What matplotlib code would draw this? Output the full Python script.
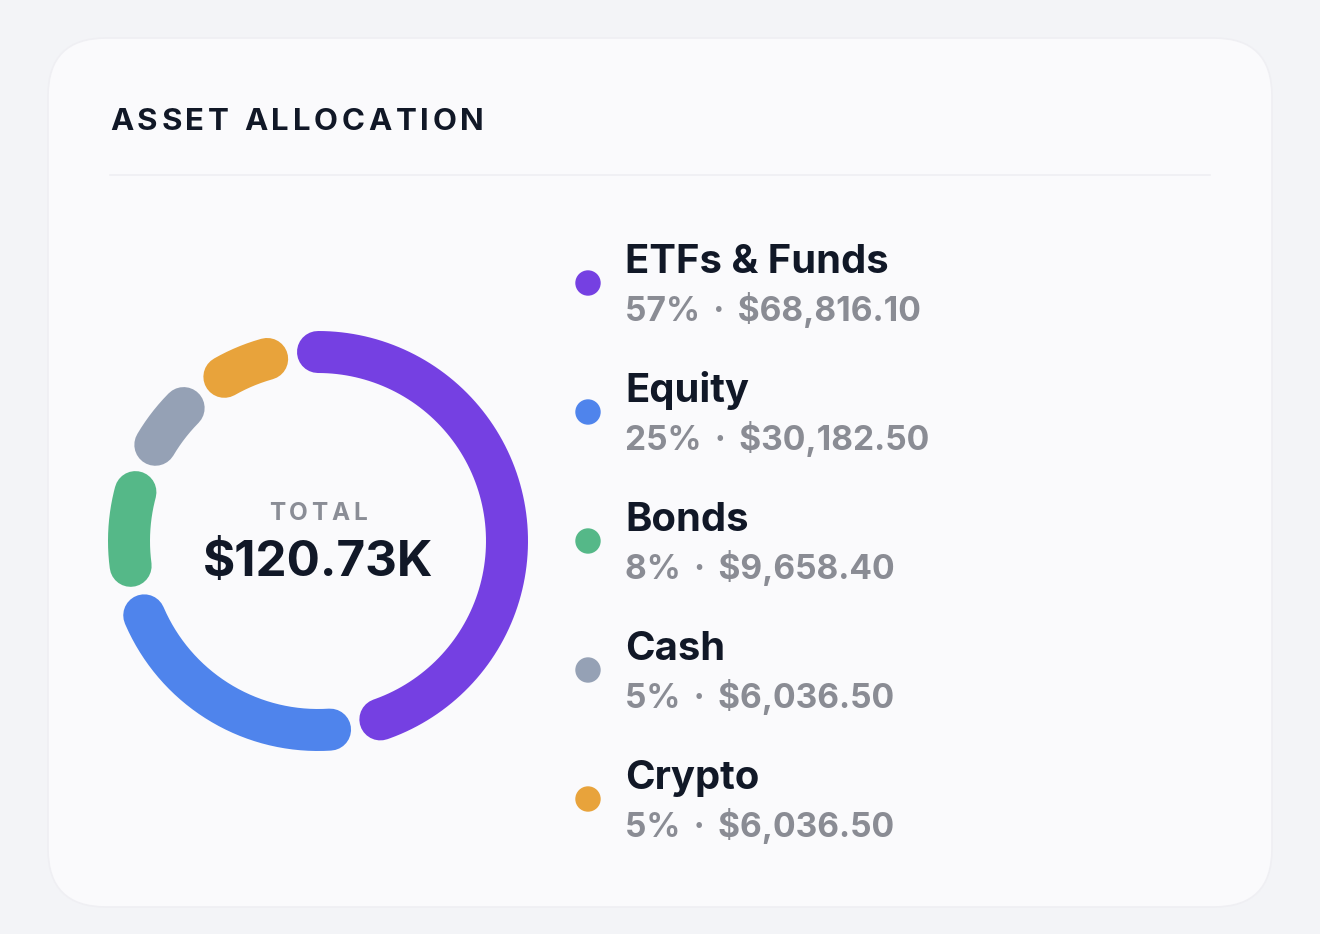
import matplotlib
matplotlib.use("Agg")
import matplotlib.pyplot as plt
from matplotlib.patches import FancyBboxPatch, Circle
import numpy as np

plt.rcParams['font.family'] = ['Inter', 'DejaVu Sans']

# data
names = ["ETFs & Funds", "Equity", "Bonds", "Cash", "Crypto"]
percents = [57, 25, 8, 5, 5]
amounts = ["$68,816.10", "$30,182.50", "$9,658.40", "$6,036.50", "$6,036.50"]
colors = ["#7540e2", "#4f84ec", "#55b888", "#95a1b5", "#e8a33b"]
total_label = "$120.73K"

W, H = 1320, 934
fig = plt.figure(figsize=(W / 100, H / 100), dpi=100)
fig.patch.set_facecolor("#f3f4f7")
ax = fig.add_axes([0, 0, 1, 1])
ax.set_xlim(0, W)
ax.set_ylim(H, 0)
ax.set_aspect("equal")
ax.axis("off")

# card
card = FancyBboxPatch((48, 38), 1224, 869, boxstyle="round,pad=0,rounding_size=58",
                      facecolor="#fafafc", edgecolor="#efeff3", linewidth=1.2, zorder=1)
ax.add_patch(card)
ax.plot([110, 1210], [175, 175], color="#efeff3", lw=1.2, zorder=2)


def spaced_text(x, y, s, tracking, center=False, **kw):
    fig.canvas.draw()
    r = fig.canvas.get_renderer()
    widths = []
    for ch in s:
        t = ax.text(0, 0, ch if ch != " " else "I", **kw)
        w = t.get_window_extent(r).width
        if ch == " ":
            w *= 0.9
        widths.append(w)
        t.remove()
    total = sum(widths) + tracking * (len(s) - 1)
    cx = x - total / 2 if center else x
    for ch, w in zip(s, widths):
        if ch != " ":
            ax.text(cx, y, ch, ha="left", va="baseline", zorder=5, **kw)
        cx += w + tracking


spaced_text(110, 130, "ASSET ALLOCATION", 3.7, fontsize=22.5, fontweight="bold", color="#111827")

# donut
cx, cy, r = 318, 541, 189
gap = 15.6
usable = 360 - gap * len(percents)
start = 0.0
for p, c in zip(percents, colors):
    span = usable * p / 100
    th = np.radians(np.linspace(start, start + span, 200))
    ax.plot(cx + r * np.sin(th), cy - r * np.cos(th), color=c, lw=42 * 0.72,
            solid_capstyle="round", zorder=3)
    start += span + gap

spaced_text(318, 520, "TOTAL", 3.6, center=True, fontsize=17.5, fontweight="bold", color="#8a8d96")
ax.text(318, 576, total_label, ha="center", va="baseline", fontsize=35.5,
        fontweight="bold", color="#111827", zorder=5)

# legend
for i, (n, p, a, c) in enumerate(zip(names, percents, amounts, colors)):
    y0 = 283 + i * 129
    ax.add_patch(Circle((588, y0), 12, color=c, zorder=4))
    ax.text(625, y0 - 10, n, ha="left", va="baseline", fontsize=28.8,
            fontweight="bold", color="#111827", zorder=5)
    ax.text(625, y0 + 38, f"{p}% \u2009·\u2009 {a}", ha="left", va="baseline", fontsize=24.2,
            fontweight="bold", color="#8a8c94", zorder=5)

fig.savefig("out.png", dpi=100, facecolor=fig.get_facecolor())
